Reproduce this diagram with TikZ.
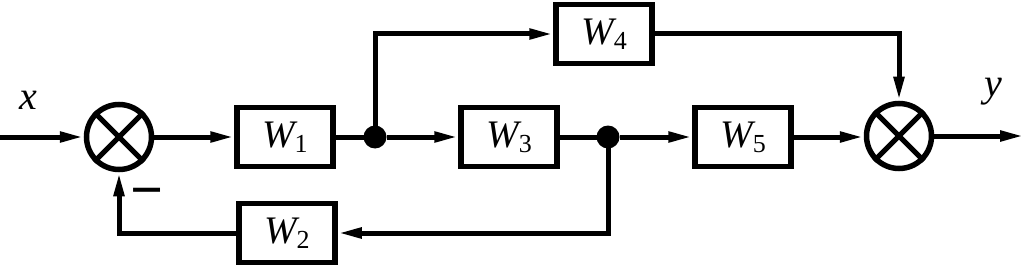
\documentclass[tikz,border=0pt]{standalone}
\usepackage{fontspec}
\setmainfont{Liberation Serif}
\usetikzlibrary{arrows.meta,calc}
\newcommand{\blkW}[1]{{\itshape W}\raisebox{-5pt}{\fontsize{26}{28}\selectfont #1}}
\begin{document}
\begin{tikzpicture}[x=1pt,y=-1pt,
  blk/.style={draw,line width=5.5pt,minimum width=96pt,minimum height=59pt,inner sep=0pt,font=\fontsize{39}{40}\selectfont},
  sumn/.style={circle,draw,line width=5.5pt,minimum size=65pt,inner sep=0pt},
  conn/.style={line width=5pt,-{Triangle[length=24pt,width=10pt]}},
  wire/.style={line width=5pt},
  dotn/.style={circle,fill,minimum size=23pt,inner sep=0pt},
  lbl/.style={font=\fontsize{40}{42}\selectfont\itshape}]
\useasboundingbox (0,0) rectangle (1024,267);
\node[sumn] (s1) at (119,137) {};
\node[sumn] (s2) at (899,136) {};
\draw[wire] (s1.north west) -- (s1.south east) (s1.north east) -- (s1.south west);
\draw[wire] (s2.north west) -- (s2.south east) (s2.north east) -- (s2.south west);
\node[blk] (w1) at (285,137) {\blkW{1}};
\node[blk] (w3) at (509,137) {\blkW{3}};
\node[blk] (w5) at (743,137) {\blkW{5}};
\node[blk] (w4) at (604,34) {\blkW{4}};
\node[blk] (w2) at (287,233) {\blkW{2}};
\node[dotn] (j1) at (375,137) {};
\node[dotn] (j2) at (608,137) {};
\coordinate (in) at (0,137);
\coordinate (out) at (1024,136);
\node[lbl] (xl) at (28,100) {x};
\node[lbl] (yl) at (993,92) {y};
\node[font=\fontsize{58}{60}\selectfont\bfseries] (mn) at (147,199) {−};
\draw[conn] (in) -- (s1.west);
\draw[conn] (s1.east) -- (w1.west);
\draw[wire] (w1.east) -- (j1.center);
\draw[conn] (j1) -- (w3.west);
\draw[conn] (j1.center) |- (w4.west);
\draw[wire] (w3.east) -- (j2.center);
\draw[conn] (j2) -- (w5.west);
\draw[conn] (w5.east) -- (w5.east -| s2.west);
\draw[conn] (w4.east) -| (s2.north);
\draw[conn] (s2.east) -- (out);
\draw[conn] (j2.center) |- (w2.east);
\draw[conn] (w2.west) -| (s1.south);
\end{tikzpicture}
\end{document}
